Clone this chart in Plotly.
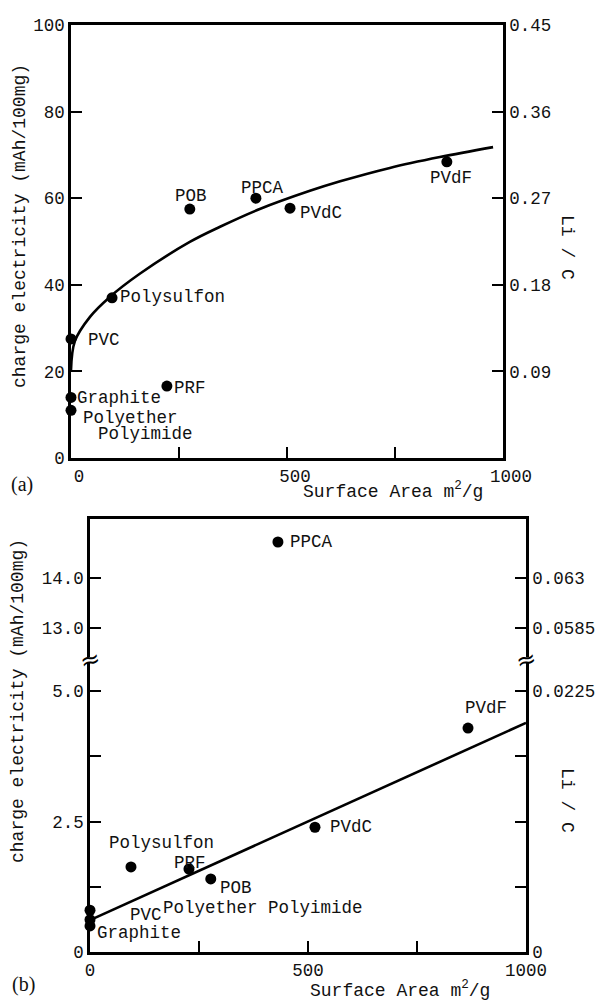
import plotly.graph_objects as go

W, H = 597, 1001
FONT = "Liberation Mono"
FS = 17.5
LI_PER_CHARGE = 0.0045  # Li/C per (mAh/100mg)

# ---------------- Panel (a) data ----------------
a_names = ["POB", "PPCA", "PVdC", "PVdF", "Polysulfon", "PVC", "PRF", "Graphite", "Polyether", "Polyimide"]
a_x = [275, 428, 507, 870, 95, 0, 222, 0, 0]
a_y = [57.5, 60.0, 57.7, 68.4, 37.0, 27.5, 16.6, 14.0, 11.0]
a_fit_x = [0, 9, 44, 90, 160, 275, 345, 437, 553, 623, 738, 854, 977]
a_fit_y = [20.3, 27.0, 32.6, 37.2, 42.6, 49.9, 53.4, 57.5, 61.7, 63.9, 67.0, 69.5, 71.8]
a_x_ticks = [0, 250, 500, 750, 1000]
a_x_ticktext = ["0", " ", "500", " ", "1000"]
a_y_ticks = [0, 20, 40, 60, 80, 100]
a_li_ticks = [0.09, 0.18, 0.27, 0.36, 0.45]
a_li_ticktext = ["0.09", "0.18", "0.27", "0.36", "0.45"]

# ---------------- Panel (b) data ----------------
b_names = ["PPCA", "PVdF", "PVdC", "Polysulfon", "PRF", "POB", "PVC", "Polyether Polyimide", "Graphite"]
b_x = [431, 867, 516, 94, 227, 277, 0, 0, 0]
b_y = [14.72, 4.29, 2.39, 1.63, 1.59, 1.40, 0.80, 0.62, 0.50]
b_fit_x = [0, 1000]
b_fit_y = [0.61, 4.39]
b_x_ticks = [0, 250, 500, 750, 1000]
b_x_ticktext = ["0", " ", "500", " ", "1000"]
b_low_ticks = [0, 1.25, 2.5, 3.75, 5.0]
b_low_ticktext = ["0", " ", "2.5", " ", "5.0"]
b_up_ticks = [13.0, 14.0]
b_up_ticktext = ["13.0", "14.0"]
b_li_low_ticks = [0, 0.005625, 0.01125, 0.016875, 0.0225]
b_li_low_ticktext = ["0", " ", " ", " ", "0.0225"]
b_li_up_ticks = [0.0585, 0.063]
b_li_up_ticktext = ["0.0585", "0.063"]
BREAK_AT = 10.0

# ---------------- geometry (pixels) ----------------
def px(x):
    return x / W

def py(y):
    return 1 - y / H

a_dom_x = [px(71), px(503)]
a_dom_y = [py(458), py(25)]
b_dom_x = [px(90), px(526)]
b_low_dom = [py(952), py(663)]
b_up_dom = [py(657), py(519)]
b_low_range = [0, (952 - 663) / 52.2]
b_up_range = [13 - (657 - 628) / 50.0, 14 + (578 - 519) / 50.0]

fig = go.Figure()

line_kw = dict(color="black", width=2.6)
mk = dict(color="black", size=11)
ghost = dict(mode="markers", marker=dict(opacity=0, size=1), hoverinfo="skip", showlegend=False)

# panel a
fig.add_trace(go.Scatter(x=a_fit_x, y=a_fit_y, mode="lines", line=dict(shape="spline", smoothing=1.0, **line_kw),
                         xaxis="x", yaxis="y", hoverinfo="skip"))
fig.add_trace(go.Scatter(x=a_x, y=a_y, mode="markers", marker=mk, cliponaxis=False, xaxis="x", yaxis="y"))
fig.add_trace(go.Scatter(x=a_x, y=[v * LI_PER_CHARGE for v in a_y], xaxis="x", yaxis="y2", **ghost))

# panel b
lo_x = [x for x, y in zip(b_x, b_y) if y < BREAK_AT]
lo_y = [y for y in b_y if y < BREAK_AT]
hi_x = [x for x, y in zip(b_x, b_y) if y >= BREAK_AT]
hi_y = [y for y in b_y if y >= BREAK_AT]
fig.add_trace(go.Scatter(x=b_fit_x, y=b_fit_y, mode="lines", line=line_kw, xaxis="x2", yaxis="y3", hoverinfo="skip"))
fig.add_trace(go.Scatter(x=lo_x, y=lo_y, mode="markers", marker=mk, cliponaxis=False, xaxis="x2", yaxis="y3"))
fig.add_trace(go.Scatter(x=lo_x, y=[v * LI_PER_CHARGE for v in lo_y], xaxis="x2", yaxis="y4", **ghost))
fig.add_trace(go.Scatter(x=hi_x, y=hi_y, mode="markers", marker=mk, cliponaxis=False, xaxis="x3", yaxis="y5"))
fig.add_trace(go.Scatter(x=hi_x, y=[v * LI_PER_CHARGE for v in hi_y], xaxis="x3", yaxis="y6", **ghost))

tickfont = dict(family=FONT, size=FS, color="#111")
ax_common = dict(showline=True, linecolor="black", linewidth=2.6, ticks="inside", ticklen=11,
                 tickwidth=2.4, tickcolor="black", showgrid=False, zeroline=False, tickfont=tickfont,
                 automargin=False)

fig.update_layout(
    template="none",
    width=W, height=H, autosize=False,
    margin=dict(l=0, r=0, t=0, b=0, pad=0),
    paper_bgcolor="white", plot_bgcolor="white",
    showlegend=False,
    xaxis=dict(domain=a_dom_x, range=[0, 1000], anchor="y", mirror=True, tickmode="array",
               tickvals=a_x_ticks, ticktext=a_x_ticktext, ticklabelshift=8, **ax_common),
    yaxis=dict(domain=a_dom_y, range=[0, 100], anchor="x", tickmode="array", tickvals=a_y_ticks, **ax_common),
    yaxis2=dict(overlaying="y", side="right", anchor="x", range=[0, 100 * LI_PER_CHARGE], tickmode="array",
                tickvals=a_li_ticks, ticktext=a_li_ticktext, **ax_common),
    xaxis2=dict(domain=b_dom_x, range=[0, 1000], anchor="y3", tickmode="array",
                tickvals=b_x_ticks, ticktext=b_x_ticktext, **ax_common),
    yaxis3=dict(domain=b_low_dom, range=b_low_range, anchor="x2", tickmode="array",
                tickvals=b_low_ticks, ticktext=b_low_ticktext, **ax_common),
    yaxis4=dict(overlaying="y3", side="right", anchor="x2",
                range=[b_low_range[0] * LI_PER_CHARGE, b_low_range[1] * LI_PER_CHARGE], tickmode="array",
                tickvals=b_li_low_ticks, ticktext=b_li_low_ticktext, **ax_common),
    xaxis3=dict(domain=b_dom_x, range=[0, 1000], anchor="y5", side="top", matches="x2",
                showline=True, linecolor="black", linewidth=2.6, ticks="", showticklabels=False,
                showgrid=False, zeroline=False, automargin=False),
    yaxis5=dict(domain=b_up_dom, range=b_up_range, anchor="x3", tickmode="array",
                tickvals=b_up_ticks, ticktext=b_up_ticktext, **ax_common),
    yaxis6=dict(overlaying="y5", side="right", anchor="x3",
                range=[b_up_range[0] * LI_PER_CHARGE, b_up_range[1] * LI_PER_CHARGE], tickmode="array",
                tickvals=b_li_up_ticks, ticktext=b_li_up_ticktext, **ax_common),
)

lab_font = dict(family=FONT, size=FS, color="#111")
ann = []

# point labels panel a: (xshift, yshift, xanchor)
a_label_style = [
    (1, 13, "center"), (7, 10, "center"), (8, -5, "left"), (4, -16, "center"),
    (6, 1, "left"), (15, -1, "left"), (5, -2, "left"), (4, -1, "left"),
    (10, -8, "left"), (25, -24, "left"),
]
a_label_pts = list(zip(a_x, a_y)) + [(a_x[-1], a_y[-1])]
for name, (x, y), (dx, dy, xa) in zip(a_names, a_label_pts, a_label_style):
    ann.append(dict(x=x, y=y, xref="x", yref="y", text=name, showarrow=False, xshift=dx, yshift=dy,
                    xanchor=xa, yanchor="middle", font=lab_font))

# point labels panel b
b_label_style = [
    (10, 0, "left"), (-5, 20, "left"), (13, 0, "left"), (31, 24, "center"), (1, 6, "center"),
    (7, -9, "left"), (38, -5, "left"), (71, 12, "left"), (5, -7, "left"),
]
for name, x, y, (dx, dy, xa) in zip(b_names, b_x, b_y, b_label_style):
    axes = ("x3", "y5") if y >= BREAK_AT else ("x2", "y3")
    ann.append(dict(x=x, y=y, xref=axes[0], yref=axes[1], text=name, showarrow=False, xshift=dx, yshift=dy,
                    xanchor=xa, yanchor="middle", font=lab_font))

title_font = dict(family=FONT, size=18, color="#111")
serif = dict(family="Liberation Serif", size=20, color="#111")
paper_texts = [
    # (text, x px, y px, angle, font)
    ("charge electricity (mAh/100mg)", 20, 226, -90, title_font),
    ("Li / C", 567, 247, 90, title_font),
    ("Surface Area m<sup>2</sup>/g", 393, 490, 0, title_font),
    ("(a)", 22, 484, 0, serif),
    ("charge electricity (mAh/100mg)", 18, 701, -90, title_font),
    ("Li / C", 567, 800, 90, title_font),
    ("Surface Area m<sup>2</sup>/g", 400, 989, 0, title_font),
    ("(b)", 23, 984, 0, serif),
]
for t, x, y, ang, f in paper_texts:
    ann.append(dict(x=px(x), y=py(y), xref="paper", yref="paper", text=t, textangle=ang, showarrow=False,
                    xanchor="center", yanchor="middle", font=f))
# axis-break marks
for bx in (90, 526):
    ann.append(dict(x=px(bx), y=py(660), xref="paper", yref="paper", text="≈", showarrow=False,
                    xanchor="center", yanchor="middle", textangle=-15,
                    font=dict(family="DejaVu Sans", size=24, color="black")))

fig.update_layout(annotations=ann)
fig.write_html("out.html", config={"displayModeBar": False},
               post_script="document.body.style.margin='0px';document.body.style.padding='0px';")
